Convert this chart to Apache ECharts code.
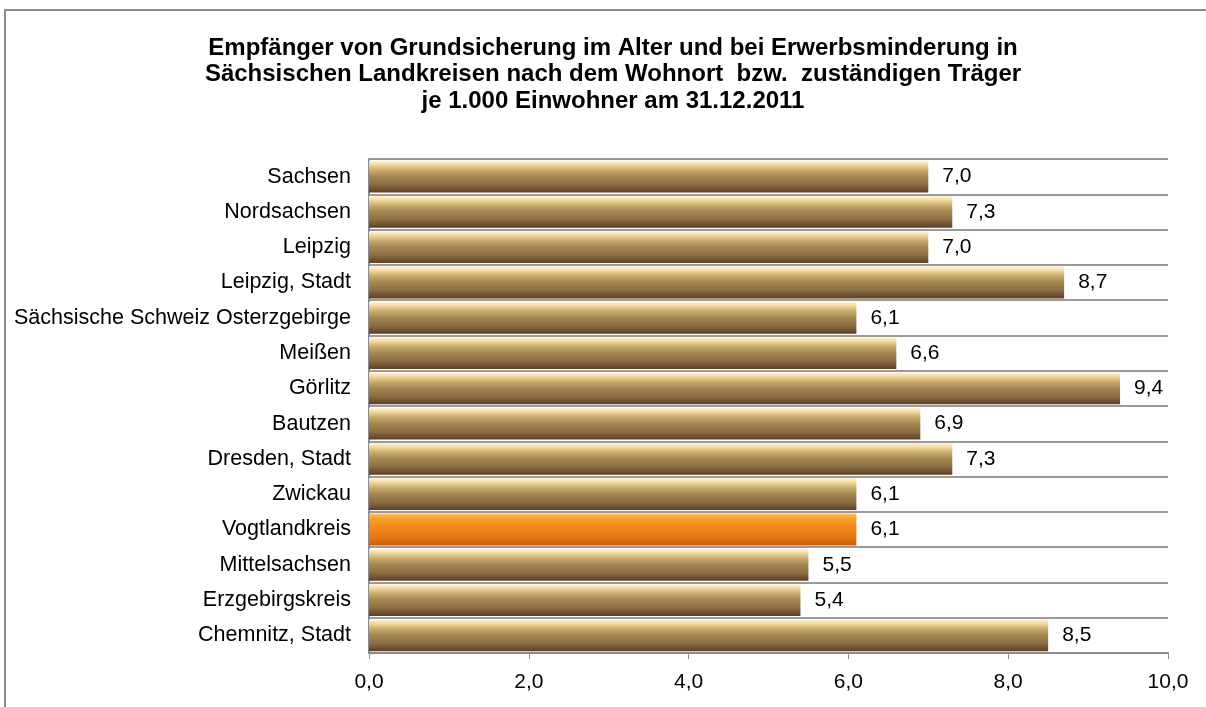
<!DOCTYPE html>
<html>
<head>
<meta charset="utf-8">
<script src="https://cdn.jsdelivr.net/npm/echarts@6/dist/echarts.min.js"></script>
<style>
  html, body { margin: 0; padding: 0; background: #fff; }
  #chart { width: 1206px; height: 707px; position: relative; }
  #frame { position: absolute; left: 4px; top: 9px; width: 1210px; height: 710px;
           border: 2px solid #8c8c8c; box-sizing: border-box; pointer-events: none; }
</style>
</head>
<body>
<div id="chart"></div>
<div id="frame"></div>
<script>
// Kreise von oben nach unten
const regions = ['Sachsen', 'Nordsachsen', 'Leipzig', 'Leipzig, Stadt',
    'Sächsische Schweiz Osterzgebirge', 'Meißen', 'Görlitz', 'Bautzen',
    'Dresden, Stadt', 'Zwickau', 'Vogtlandkreis', 'Mittelsachsen',
    'Erzgebirgskreis', 'Chemnitz, Stadt'];
const perThousand = [7.0, 7.3, 7.0, 8.7, 6.1, 6.6, 9.4, 6.9, 7.3, 6.1, 6.1, 5.5, 5.4, 8.5];
const highlighted = ['Vogtlandkreis'];
const xTicks = [0, 2, 4, 6, 8, 10];

const fmt = v => Number(v).toFixed(1).replace('.', ',');

function grad(stops) {
    return new echarts.graphic.LinearGradient(0, 0, 0, 1,
        stops.map(s => ({ offset: s[0], color: s[1] })));
}
const bronze = grad([[0, '#fdf4d6'], [0.12, '#f2dba2'], [0.3, '#c9aa6c'],
    [0.5, '#a38752'], [0.75, '#8a6d43'], [0.9, '#6f5133'], [1, '#5c3f27']]);
const orange = grad([[0, '#fcc060'], [0.15, '#f9a02c'], [0.45, '#f2861a'],
    [0.8, '#e27414'], [1, '#c55e10']]);

const chart = echarts.init(document.getElementById('chart'));
const font = 'Liberation Sans, Arial, sans-serif';

chart.setOption({
    animation: false,
    title: {
        text: 'Empfänger von Grundsicherung im Alter und bei Erwerbsminderung in\n' +
              'Sächsischen Landkreisen nach dem Wohnort  bzw.  zuständigen Träger\n' +
              'je 1.000 Einwohner am 31.12.2011',
        left: 608,
        top: 30,
        textAlign: 'center',
        textStyle: { fontFamily: font, fontSize: 24, fontWeight: 'bold', color: '#000', lineHeight: 26.5 }
    },
    grid: { left: 369, right: 38, top: 159, bottom: 54 },
    xAxis: {
        type: 'value',
        min: xTicks[0],
        max: xTicks[xTicks.length - 1],
        interval: 2,
        axisLine: { show: true, lineStyle: { color: '#8c8c8c', width: 2 } },
        axisTick: { show: true, length: 6, lineStyle: { color: '#8c8c8c', width: 1 } },
        splitLine: { show: false },
        axisLabel: { formatter: fmt, color: '#000', fontFamily: font, fontSize: 21, margin: 19 }
    },
    yAxis: {
        type: 'category',
        inverse: true,
        data: regions,
        axisLine: { show: true, lineStyle: { color: '#8c8c8c', width: 2 } },
        axisTick: { show: false },
        splitLine: { show: true, lineStyle: { color: '#9a9a9a', width: 2 } },
        axisLabel: { color: '#000', fontFamily: font, fontSize: 21.5, margin: 18 }
    },
    series: [{
        type: 'bar',
        barCategoryGap: '10%',
        data: perThousand.map((v, i) => ({
            value: v,
            itemStyle: { color: highlighted.includes(regions[i]) ? orange : bronze }
        })),
        label: {
            show: true,
            position: 'right',
            distance: 14,
            formatter: p => fmt(p.value),
            color: '#000',
            fontFamily: font,
            fontSize: 21
        }
    }]
});
</script>
</body>
</html>
